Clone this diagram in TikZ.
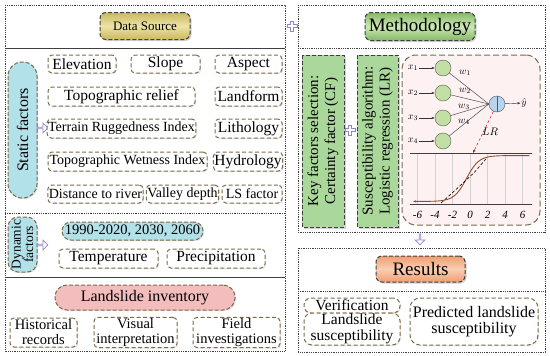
\documentclass[tikz,border=0pt]{standalone}
\usepackage{fontspec}
\setmainfont{Liberation Serif}
\usetikzlibrary{positioning,calc,shadows,shapes.arrows,arrows.meta}

\definecolor{brownline}{HTML}{7D6A48}
\definecolor{darkline}{HTML}{3F3F3F}
\definecolor{dsedge}{HTML}{C9B95E}
\definecolor{dscenter}{HTML}{EDE3A6}
\definecolor{methedge}{HTML}{86B866}
\definecolor{methcenter}{HTML}{CDE8B6}
\definecolor{resedge}{HTML}{EE9E72}
\definecolor{rescenter}{HTML}{F9CFB4}
\definecolor{keygreen}{HTML}{AAD79A}
\definecolor{pillblue}{HTML}{B3E1EA}
\definecolor{pillpink}{HTML}{F3BDBD}
\definecolor{lrpink}{HTML}{FDF1F2}
\definecolor{lavender}{HTML}{8E86D0}
\definecolor{neurongreen}{HTML}{C3E0A4}
\definecolor{neuronblue}{HTML}{B9D4EE}
\definecolor{curvebrown}{HTML}{9A4A2A}

\tikzset{
  panel/.style={draw=darkline,densely dotted,line width=0.8pt},
  factor/.style={draw=brownline,dash pattern=on 4pt off 2.5pt,line width=1pt,
    rounded corners=4pt,fill=white,inner sep=1pt,align=center,
    drop shadow={opacity=0.2,shadow xshift=1pt,shadow yshift=-1pt},
    font=\fontsize{15.5}{16}\selectfont},
  smallfont/.style={font=\fontsize{14}{15}\selectfont},
  header/.style={draw=darkline,dash pattern=on 4pt off 2pt,line width=1pt,
    rounded corners=6pt,inner sep=1pt,
    drop shadow={opacity=0.35,shadow xshift=1.5pt,shadow yshift=-1.5pt}},
  pill/.style={draw=brownline,dash pattern=on 4pt off 2pt,line width=1pt,
    inner sep=1pt,align=center,
    drop shadow={opacity=0.25,shadow xshift=1pt,shadow yshift=-1pt}},
  keybox/.style={draw=darkline,dash pattern=on 4pt off 2pt,line width=1pt,
    fill=keygreen,rotate=90,inner sep=1pt,align=center,
    drop shadow={opacity=0.35,shadow xshift=1.5pt,shadow yshift=-1.5pt},
    font=\fontsize{15}{17}\selectfont},
  hollowarrow/.style={single arrow,draw=lavender,fill=white,line width=0.8pt,
    minimum height=11pt,minimum width=10pt,single arrow head extend=2pt,inner sep=0pt},
  neuron/.style={circle,draw=gray!70!black,minimum size=16pt,inner sep=0pt},
  netlabel/.style={font=\fontsize{10}{10}\selectfont,inner sep=0.5pt},
  gridline/.style={gray!35,line width=0.5pt},
  plusmark/.pic={\draw[lavender,line width=0.8pt,fill=white]
    (-1.8,-5) -- (1.8,-5) -- (1.8,-1.8) -- (5,-1.8) -- (5,1.8) -- (1.8,1.8)
    -- (1.8,5) -- (-1.8,5) -- (-1.8,1.8) -- (-5,1.8) -- (-5,-1.8) -- (-1.8,-1.8) -- cycle;}
}

\begin{document}
\begin{tikzpicture}[x=1pt,y=-1pt]
\useasboundingbox (0,0) rectangle (550,356);

% panels
\draw[panel] (5,5) rectangle (285,351);
\draw[darkline,line width=0.8pt] (5,48) -- (285,48);
\draw[panel] (5,213) -- (285,213);
\draw[darkline,line width=0.8pt] (5,277) -- (285,277);
\draw[panel] (298,5) rectangle (545,232);
\draw[panel] (298,48) -- (545,48);
\draw[panel] (298,248) rectangle (545,352);
\draw[panel] (298,291) -- (545,291);

% data source
\node[header,top color=dsedge,bottom color=dsedge,middle color=dscenter,
  minimum width=90,minimum height=27,font=\fontsize{13}{14}\selectfont]
  (datasrc) at (145,26) {Data Source};

% static factors
\node[pill,fill=pillblue,rotate=90,rounded corners=14pt,minimum width=136,minimum height=29,
  font=\fontsize{16}{16}\selectfont] (static) at (22.5,130) {Static factors};
\node[hollowarrow] (staticarr) at (42,128) {};

\node[factor,minimum width=68,minimum height=18] (elev) at (82,64) {Elevation};
\node[factor,minimum width=69,minimum height=18] (slope) at (165.5,64) {Slope};
\node[factor,minimum width=67,minimum height=18] (aspect) at (248.5,64) {Aspect};
\node[factor,minimum width=147,minimum height=19] (relief) at (121.5,96.5) {Topographic relief};
\node[factor,minimum width=67,minimum height=19] (landform) at (248.5,96.5) {Landform};
\node[factor,smallfont,minimum width=147,minimum height=19] (tri) at (121.5,128.5) {Terrain Ruggedness Index};
\node[factor,minimum width=67,minimum height=19] (litho) at (248.5,128.5) {Lithology};
\node[factor,smallfont,minimum width=159,minimum height=19] (twi) at (127.5,161.5) {Topographic Wetness Index};
\node[factor,minimum width=68,minimum height=19] (hydro) at (248,161.5) {Hydrology};
\node[factor,smallfont,minimum width=95,minimum height=18] (river) at (95.5,194) {Distance to river};
\node[factor,smallfont,minimum width=71,minimum height=18] (valley) at (182.5,194) {Valley depth};
\node[factor,smallfont,minimum width=60,minimum height=18] (lsfac) at (252,194) {LS factor};

% dynamic factors
\node[pill,fill=pillblue,rotate=90,rounded corners=10pt,minimum width=55,minimum height=29,
  font=\fontsize{13.5}{12.5}\selectfont] (dynamic) at (22.5,244.5) {Dynamic\\factors};
\node[hollowarrow] (dynamicarr) at (42,245) {};
\node[pill,fill=pillblue,rounded corners=9pt,minimum width=141,minimum height=18,
  font=\fontsize{14.5}{15}\selectfont] (years) at (132.5,231) {1990-2020, 2030, 2060};
\node[factor,minimum width=99,minimum height=19] (temp) at (108.5,258.5) {Temperature};
\node[factor,minimum width=98,minimum height=19] (precip) at (216,258.5) {Precipitation};

% landslide inventory
\node[pill,fill=pillpink,rounded corners=12pt,minimum width=180,minimum height=25,
  font=\fontsize{16}{17}\selectfont] (inventory) at (145,297.5) {Landslide inventory};
\node[factor,font=\fontsize{14.5}{15}\selectfont,minimum width=67,minimum height=29] (records) at (43.5,332.5) {Historical\\records};
\node[factor,font=\fontsize{14.5}{15}\selectfont,minimum width=83,minimum height=29] (visual) at (135.5,332.5) {Visual\\interpretation};
\node[factor,font=\fontsize{14.5}{15}\selectfont,minimum width=87,minimum height=29] (field) at (236.5,332.5) {Field\\investigations};

% methodology
\node[header,top color=methedge,bottom color=methedge,middle color=methcenter,
  minimum width=110,minimum height=28,font=\fontsize{19}{20}\selectfont]
  (meth) at (420,26.5) {Methodology};
\pic at (292,26) {plusmark};

\node[keybox,minimum width=172,minimum height=42] (cf) at (323,141) {Key factors selection:\\Certainty factor (CF)};
\node[keybox,minimum width=172,minimum height=41] (lr) at (377.5,141) {Susceptibility algorithm:\\Logistic regression (LR)};
\pic at (350,130) {plusmark};

% logistic regression sketch
\node[draw=brownline,dash pattern=on 6pt off 3pt,line width=1pt,fill=lrpink,rounded corners=14pt,
  minimum width=138,minimum height=170] (lrbox) at (471,140) {};
\node[neuron,fill=neuronblue] (out) at (497,104) {};
\draw[gray!70!black] (out.north) -- (out.south);
\node[netlabel] (yhat) at (524,103) {$\hat{y}$};
\draw[-{Latex[length=3pt]},gray!40!black] (out) -- (yhat);
\foreach \i/\y in {1/68,2/93,3/118,4/141}{
  \node[netlabel] (x\i) at (413,\y) {$x_\i$};
  \node[neuron,fill=neurongreen] (h\i) at (443,\y) {};
  \draw[-{Latex[length=3pt]},gray!40!black] (x\i) -- (h\i);
  \draw[gray!40!black] (h\i) -- (out.west);
}
\node[netlabel] (w1) at (465,73) {$w_1$};
\node[netlabel] (w2) at (465,91) {$w_2$};
\node[netlabel] (w3) at (464,107) {$w_3$};
\node[netlabel] (w4) at (464,122) {$w_4$};
\coordinate (lrend) at (473,153);
\draw[-{Latex[length=3pt]},red!75!black,densely dashed] (out) -- (lrend);
\node[netlabel,font=\fontsize{11}{11}\selectfont] (lrlabel) at (490,132) {$LR$};

\begin{scope}[shift={(470,204)},x=8.75pt,y=51pt]
\foreach \t in {-6,-4,...,6}{
  \draw[gridline] (\t,0) -- (\t,1);
  \node[netlabel,font=\fontsize{11}{11}\selectfont\itshape] (tick\t) at (\t,-0.22) {\t};
}
\draw[darkline,line width=1pt] (-6.86,0) -- (7.09,0);
\draw[darkline,line width=1pt] (-6.86,1) -- (7.09,1);
\draw[curvebrown,line width=0.9pt,{Stealth[length=3pt]}-,domain=-6.5:6.8,samples=80]
  plot (\x,{0.05+0.9/(1+exp(-1.4*(\x+0.4)))});
\draw[black,densely dashed,line width=0.6pt] (-3.3,0.02) -- (-1.5,0.3) -- (0.5,0.62) -- (1.8,0.88);
\end{scope}

% results
\node[hollowarrow,rotate=-90] (downarr) at (420,239) {};
\node[header,top color=resedge,bottom color=resedge,middle color=rescenter,
  minimum width=89,minimum height=26,font=\fontsize{19}{20}\selectfont]
  (results) at (420.5,269) {Results};
\node[factor,font=\fontsize{15.5}{15.5}\selectfont,minimum width=96,minimum height=15,rounded corners=7pt] (verif) at (352,305.5) {Verification};
\node[factor,font=\fontsize{15.5}{15.5}\selectfont,minimum width=96,minimum height=32,rounded corners=8pt] (suscmap) at (352,329) {Landslide\\susceptibility};
\node[factor,font=\fontsize{16}{15.5}\selectfont,minimum width=128,minimum height=47,rounded corners=10pt] (predicted) at (474,321.5) {Predicted landslide\\susceptibility};
\end{tikzpicture}
\end{document}
